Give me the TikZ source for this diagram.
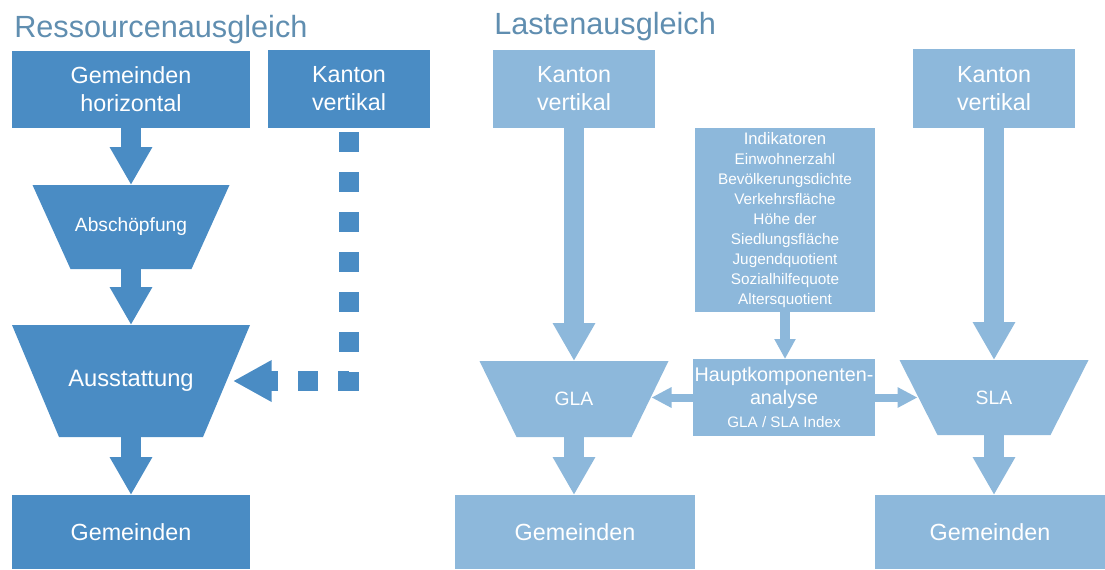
\documentclass[tikz,border=0pt]{standalone}
\usepackage{fontspec}
\setmainfont{Liberation Sans}
\usetikzlibrary{arrows.meta}

\definecolor{darkblue}{RGB}{74,140,196}
\definecolor{lightblue}{RGB}{141,184,219}
\definecolor{titleblue}{RGB}{96,142,176}

\begin{document}
\begin{tikzpicture}[x=0.75pt,y=0.75pt,yscale=-1,xscale=1,
	box/.style={rectangle,inner sep=0pt,outer sep=0pt,text=white,align=center,font=\fontsize{17.5}{21}\selectfont},
	trap/.style 2 args={rectangle,inner sep=0pt,outer sep=0pt,text=white,align=center,
		path picture={\fill[#1] (path picture bounding box.north west) -- (path picture bounding box.north east)
			-- ([xshift=-#2]path picture bounding box.south east) -- ([xshift=#2]path picture bounding box.south west) -- cycle;}},
	bigarrow/.style={line width=15pt,-{Triangle[width=30pt,length=28.5pt]}},
	smallarrow/.style={line width=6pt,-{Triangle[width=14.5pt,length=15pt]}},
	headline/.style={anchor=base west,inner sep=0pt,text=titleblue,font=\fontsize{23}{27}\selectfont}]
	\useasboundingbox (0,0) rectangle (1105,569);

	% Ressourcenausgleich
	\node[headline] (titleres) at (14,37) {Ressourcenausgleich};
	% Text Node
	\node[box,fill=darkblue,minimum width=178.5pt,minimum height=57.75pt] (gemhor) at (131,89) {Gemeinden\\horizontal};
	% Text Node
	\node[box,fill=darkblue,minimum width=121.5pt,minimum height=58.5pt] (kantres) at (349,89) {Kanton\\vertikal};
	% Text Node
	\node[trap={darkblue}{28.5pt},minimum width=147.75pt,minimum height=63pt,font=\fontsize{14.4}{17}\selectfont] (absch) at (131,227) {Abschöpfung};
	% Text Node
	\node[trap={darkblue}{35.25pt},minimum width=178.5pt,minimum height=84pt,font=\fontsize{17.8}{21}\selectfont] (ausst) at (131,381) {Ausstattung};
	% Text Node
	\node[box,fill=darkblue,minimum width=178.5pt,minimum height=55.5pt] (gemres) at (131,532) {Gemeinden};
	% Connection
	\coordinate (ausstin) at ([xshift=-12.75pt]ausst.east);
	\draw[bigarrow,darkblue] (gemhor.south) -- (absch.north);
	\draw[bigarrow,darkblue] (absch.south) -- (ausst.north);
	\draw[bigarrow,darkblue] (ausst.south) -- (gemres.north);
	\draw[darkblue,line width=15pt,dash pattern=on 15pt off 15pt,shorten <=3pt,-{Triangle[width=29.25pt,length=29pt]}]
		(kantres.south) -- (kantres.south |- ausstin) -- (ausstin);

	% Lastenausgleich
	\node[headline] (titlelast) at (494,34) {Lastenausgleich};
	% Text Node
	\node[box,fill=lightblue,minimum width=121.5pt,minimum height=58.5pt] (kantgla) at (574,89) {Kanton\\vertikal};
	% Text Node
	\node[box,fill=lightblue,minimum width=121.5pt,minimum height=59.25pt] (kantsla) at (994,88.5) {Kanton\\vertikal};
	% Text Node
	\node[box,fill=lightblue,minimum width=135pt,minimum height=138pt,font=\fontsize{11.5}{15}\selectfont] (indik) at (785,220)
		{{\fontsize{12.5}{15}\selectfont Indikatoren}\\Einwohnerzahl\\Bevölkerungsdichte\\Verkehrsfläche\\Höhe der\\Siedlungsfläche\\Jugendquotient\\Sozialhilfequote\\Altersquotient};
	% Text Node
	\node[box,fill=lightblue,minimum width=136.5pt,minimum height=57.75pt,font=\fontsize{14.8}{17}\selectfont] (hauptk) at (784,397.5)
		{Hauptkomponenten-\\analyse\\{\fontsize{11.4}{13}\selectfont GLA / SLA Index}};
	% Text Node
	\node[trap={lightblue}{27.75pt},minimum width=141.75pt,minimum height=57pt,font=\fontsize{14.5}{17}\selectfont] (gla) at (574,399) {GLA};
	% Text Node
	\node[trap={lightblue}{28.5pt},minimum width=141.75pt,minimum height=56.25pt,font=\fontsize{14.5}{17}\selectfont] (sla) at (994,397.5) {SLA};
	% Text Node
	\node[box,fill=lightblue,minimum width=180pt,minimum height=55.5pt] (gemgla) at (575,532) {Gemeinden};
	% Text Node
	\node[box,fill=lightblue,minimum width=172.5pt,minimum height=55.5pt] (gemsla) at (990,532) {Gemeinden};
	% Connection
	\coordinate (glain) at ([xshift=-12.75pt]gla.east);
	\coordinate (slain) at ([xshift=13.5pt]sla.west);
	\draw[bigarrow,lightblue] (kantgla.south) -- (gla.north);
	\draw[bigarrow,lightblue] (kantsla.south) -- (sla.north);
	\draw[bigarrow,lightblue] (gla.south) -- (gla.south |- gemgla.north);
	\draw[bigarrow,lightblue] (sla.south) -- (sla.south |- gemsla.north);
	\draw[lightblue,line width=7.5pt,-{Triangle[width=15pt,length=15pt]}] (indik.south) -- (indik.south |- hauptk.north);
	\draw[smallarrow,lightblue] (hauptk.west) -- (glain |- hauptk.west);
	\draw[smallarrow,lightblue] (hauptk.east) -- (slain |- hauptk.east);

\end{tikzpicture}
\end{document}
